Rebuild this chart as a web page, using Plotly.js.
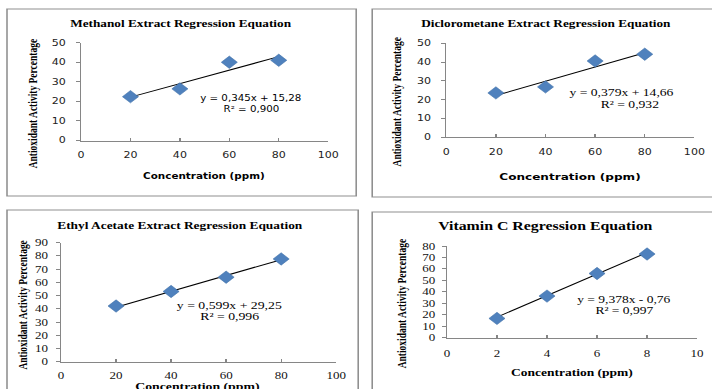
<!DOCTYPE html>
<html>
<head>
<meta charset="utf-8">
<script src="https://cdn.plot.ly/plotly-3.0.1.min.js"></script>
<style>
html,body{margin:0;padding:0;background:#fff;overflow:hidden;width:712px;height:389px;}
#chart{height:389px;transform-origin:0 0;}
</style>
</head>
<body>
<div id="chart"></div>
<script>
// ---- data ----
const chartTitles = ["Methanol Extract Regression Equation", "Diclorometane Extract Regression Equation", "Ethyl Acetate Extract Regression Equation", "Vitamin C Regression Equation"];
const yTitle = "Antioxidant Activity Percentage";
const xTitle = "Concentration (ppm)";

const methanolX = [20, 40, 60, 80];
const methanolY = [22.4, 26.4, 40.0, 41.0];
const dicloroX = [20, 40, 60, 80];
const dicloroY = [23.6, 26.8, 40.6, 44.2];
const ethylX = [20, 40, 60, 80];
const ethylY = [42.1, 53.1, 63.9, 77.7];
const vitCX = [2, 4, 6, 8];
const vitCY = [16.8, 36.3, 56.0, 73.0];

const slopes = [0.345, 0.379, 0.599, 9.378];
const intercepts = [15.28, 14.66, 29.25, -0.76];
const eqLabels = ["y = 0,345x + 15,28", "y = 0,379x + 14,66", "y = 0,599x + 29,25", "y = 9,378x - 0,76"];
const r2Labels = ["R² = 0,900", "R² = 0,932", "R² = 0,996", "R² = 0,997"];

const xRanges = [[0, 100], [0, 100], [0, 100], [0, 10]];
const yRanges = [[0, 50], [0, 50], [0, 90], [0, 80]];
const xDticks = [20, 20, 20, 2];
const yDticks = [10, 10, 10, 10];

// ---- geometry: the reference is a horizontally stretched image, so the plot
// is drawn narrower and stretched by S (paper fractions are unchanged) ----
const W = 712, H = 389, S = 1.3;
const PW = W / S;
document.getElementById("chart").style.width = PW + "px";
document.getElementById("chart").style.transform = "scaleX(" + S + ")";
const px = v => v / W;
const py = v => 1 - v / H;

const seriesX = [methanolX, dicloroX, ethylX, vitCX];
const seriesY = [methanolY, dicloroY, ethylY, vitCY];

// plot areas in reference pixels: [left, right, top, bottom]
const areas = [[81, 328, 42.7, 140.5], [446, 694, 43.3, 137.3], [61, 336, 242.7, 361.7], [446.7, 696.7, 246, 337.7]];
const frames = [[7, 356, 9, 196], [372, 730, 9, 197], [7, 358, 210, 400], [372, 730, 212, 400]];

const SANS = "DejaVu Sans";
const SERIF = "Liberation Serif";
const tickFonts = [{family: SANS, size: 8.5, color: "#222"}, {family: SANS, size: 8.5, color: "#222"}, {family: SERIF, size: 10, color: "#111"}, {family: SERIF, size: 10, color: "#111"}];
const xStand = [6, 7, 4, 6];
const yStand = [6, 6, 4, 3];

const titleSpec = [[180, 23, 10.2], [546, 23, 10.2], [180, 225, 10.3], [545, 226, 12.2]];
const yTitleSpec = [[33, 103], [397, 102], [23, 305], [402, 303]];
const xTitleSpec = [[204.5, 176, SANS, 8, true], [570, 176, SANS, 9.3, true], [198, 387, SERIF, 10.6, false], [572, 373, SERIF, 10.4, false]];
const eqSpec = [[251, 98, 251, 109, SANS, 7.9], [620.5, 92.5, 630, 104.5, SERIF, 10.5], [229.5, 305.5, 229, 316.5, SERIF, 10.6], [623.5, 299.5, 623.5, 310.5, SERIF, 10.4]];

const traces = [];
const layout = {
  width: PW, height: H,
  margin: {l: 0, r: 0, t: 0, b: 0},
  paper_bgcolor: "#fff", plot_bgcolor: "#fff",
  showlegend: false,
  shapes: [], annotations: []
};

for (let i = 0; i < 4; i++) {
  const sfx = i === 0 ? "" : String(i + 1);
  const xa = "x" + sfx, ya = "y" + sfx;
  const xs = seriesX[i], ys = seriesY[i];
  const x0 = Math.min(...xs), x1 = Math.max(...xs);
  traces.push({
    x: [x0, x1], y: [slopes[i] * x0 + intercepts[i], slopes[i] * x1 + intercepts[i]],
    type: "scatter", mode: "lines", line: {color: "#000", width: 1},
    xaxis: xa, yaxis: ya, hoverinfo: "skip"
  });
  traces.push({
    x: xs, y: ys, type: "scatter", mode: "markers",
    marker: {symbol: "diamond", size: 9.5, color: "#4F81BD", line: {color: "#3f6fa8", width: 0.5}},
    xaxis: xa, yaxis: ya, cliponaxis: false
  });
  const a = areas[i];
  layout["xaxis" + sfx] = {
    domain: [px(a[0]), px(a[1])], anchor: ya, range: xRanges[i], dtick: xDticks[i], tick0: 0,
    showgrid: false, zeroline: false, showline: true, linecolor: "#868686", linewidth: 1,
    ticks: "inside", ticklen: 3, tickcolor: "#868686", tickfont: tickFonts[i], ticklabelstandoff: xStand[i],
    fixedrange: true
  };
  layout["yaxis" + sfx] = {
    domain: [py(a[3]), py(a[2])], anchor: xa, range: yRanges[i], dtick: yDticks[i], tick0: 0,
    showgrid: false, zeroline: false, showline: true, linecolor: "#868686", linewidth: 1,
    ticks: "outside", ticklen: 3, tickcolor: "#868686", tickfont: tickFonts[i], ticklabelstandoff: yStand[i],
    fixedrange: true
  };
  const f = frames[i];
  layout.shapes.push({type: "rect", xref: "paper", yref: "paper", x0: px(f[0]), x1: px(f[1]), y0: py(f[3]), y1: py(f[2]), line: {color: "#8f8f8f", width: 1.2}, fillcolor: "rgba(0,0,0,0)", layer: "below"});

  const t = titleSpec[i];
  layout.annotations.push({text: "<b>" + chartTitles[i] + "</b>", xref: "paper", yref: "paper", x: px(t[0]), y: py(t[1]), xanchor: "center", yanchor: "middle", showarrow: false, font: {family: SERIF, size: t[2], color: "#000"}});
  const yt = yTitleSpec[i];
  layout.annotations.push({text: "<b>" + yTitle + "</b>", xref: "paper", yref: "paper", x: px(yt[0]), y: py(yt[1]), xanchor: "center", yanchor: "middle", textangle: -90, showarrow: false, font: {family: SERIF, size: 9.5, color: "#000"}});
  const xt = xTitleSpec[i];
  layout.annotations.push({text: "<b>" + xTitle + "</b>", xref: "paper", yref: "paper", x: px(xt[0]), y: py(xt[1]), xanchor: "center", yanchor: "middle", showarrow: false, font: {family: xt[2], size: xt[3], color: "#000"}});
  const e = eqSpec[i];
  layout.annotations.push({text: eqLabels[i], xref: "paper", yref: "paper", x: px(e[0]), y: py(e[1]), xanchor: "center", yanchor: "middle", showarrow: false, font: {family: e[4], size: e[5], color: "#000"}});
  layout.annotations.push({text: r2Labels[i], xref: "paper", yref: "paper", x: px(e[2]), y: py(e[3]), xanchor: "center", yanchor: "middle", showarrow: false, font: {family: e[4], size: e[5], color: "#000"}});
}

Plotly.newPlot("chart", traces, layout, {displayModeBar: false, staticPlot: true});
</script>
</body>
</html>
